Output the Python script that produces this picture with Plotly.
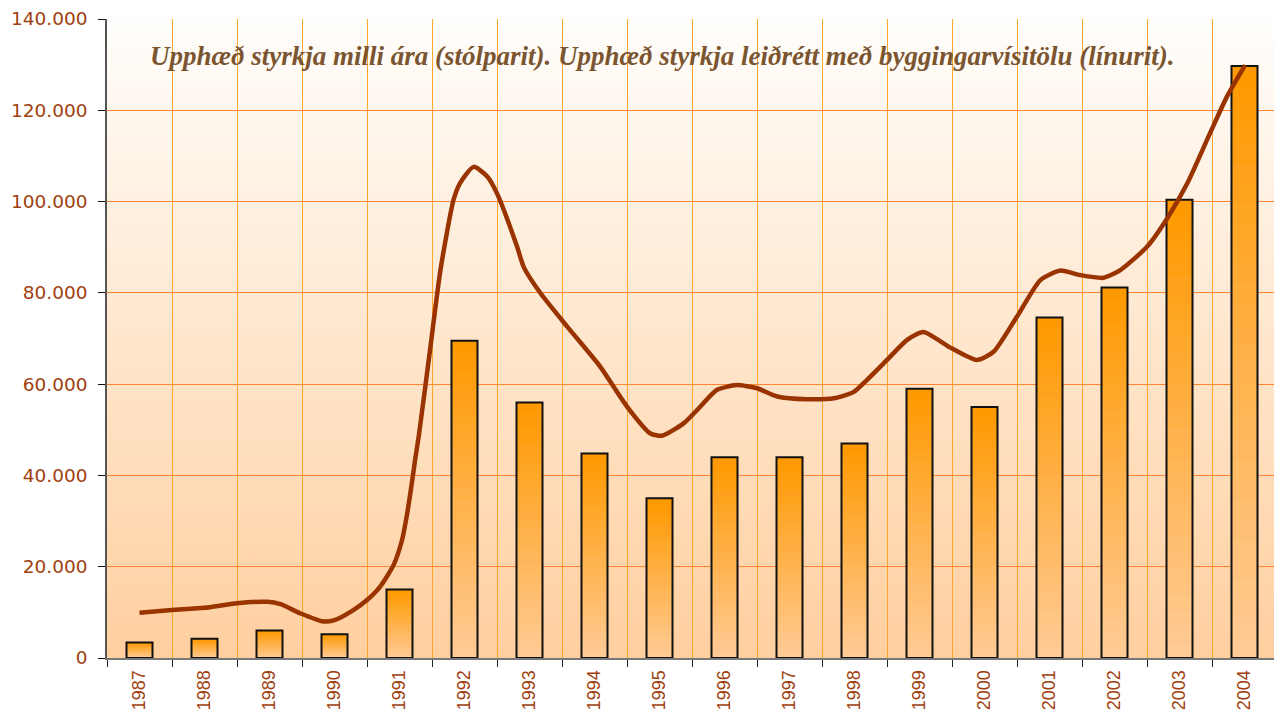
import base64
import plotly.graph_objects as go

# ---------------- data ----------------
years = list(range(1987, 2005))
year_labels = [str(y) for y in years]

# Grant amounts per year (bars)
grants = [3400, 4200, 6000, 5200, 15000, 69500, 56000, 44800, 35000,
          44000, 44000, 47000, 59000, 55000, 74600, 81200, 100400, 129700]

# Grants adjusted by building cost index (line)
adj_x = [1987.00, 1987.50, 1988.00, 1988.50, 1988.96, 1989.17, 1989.47, 1989.83,
         1990.00, 1990.29, 1990.50, 1990.70, 1990.91, 1991.04, 1991.12, 1991.19,
         1991.24, 1991.30, 1991.47, 1991.63, 1991.83, 1991.93, 1992.14, 1992.35,
         1992.50, 1992.81, 1992.91, 1993.17, 1993.58, 1994.09, 1994.50, 1994.86,
         1995.04, 1995.37, 1995.63, 1995.88, 1996.19, 1996.50, 1996.81, 1997.27,
         1997.68, 1997.99, 1998.19, 1998.50, 1998.81, 1999.06, 1999.45, 1999.88,
         2000.14, 2000.50, 2000.86, 2001.17, 2001.47, 2001.83, 2002.09, 2002.50,
         2002.81, 2003.12, 2003.47, 2003.73, 2004.01]
adj_y = [9900, 10500, 11000, 12000, 12300, 11800, 9800, 8000,
         8300, 10500, 12700, 15600, 20400, 25900, 31800, 38300,
         43400, 49000, 67500, 85000, 100300, 104000, 107600, 105500,
         101800, 90100, 85700, 79900, 72600, 63800, 55100, 49200,
         48700, 51400, 55100, 58700, 59800, 59100, 57300, 56700,
         56900, 58300, 60900, 65300, 69700, 71400, 68200, 65300,
         67100, 74800, 82800, 84900, 83900, 83300, 85000, 90100,
         96300, 104000, 115000, 123000, 129900]

y_ticks = [0, 20000, 40000, 60000, 80000, 100000, 120000, 140000]

title_text = ("Upphæð styrkja milli ára (stólparit). "
              "Upphæð styrkja leiðrétt með byggingarvísitölu (línurit).")

# ---------------- styles ----------------
label_color = "#A0400F"
bar_top = (255, 153, 0)
bar_bottom = (255, 202, 148)
n_bands = 30
bar_width = 0.4

fig = go.Figure()

# gradient bars: overlaid, from full height (darkest) down to shortest (lightest)
for k in range(n_bands):
    t = k / (n_bands - 1)
    c = tuple(round(bar_top[i] + t * (bar_bottom[i] - bar_top[i])) for i in range(3))
    frac = (n_bands - k) / n_bands
    fig.add_trace(go.Bar(
        x=years, y=[v * frac for v in grants], width=bar_width,
        marker=dict(color="rgb(%d,%d,%d)" % c, line=dict(width=0)),
        hoverinfo="skip", showlegend=False))

# outline
fig.add_trace(go.Bar(
    x=years, y=grants, width=bar_width,
    marker=dict(color="rgba(0,0,0,0)", line=dict(color="#111111", width=2)),
    showlegend=False, name="Upphæð styrkja"))

# adjusted line
fig.add_trace(go.Scatter(
    x=adj_x, y=adj_y, mode="lines",
    line=dict(color="#993300", width=4.5, shape="spline", smoothing=0.6),
    showlegend=False, name="Leiðrétt"))

# background gradient of plot area
svg = ('<svg xmlns="http://www.w3.org/2000/svg" width="100" height="100" '
       'viewBox="0 0 100 100" preserveAspectRatio="none">'
       '<defs><linearGradient id="g" x1="0" y1="0" x2="0" y2="1">'
       '<stop offset="0" stop-color="#FFFEFC"/>'
       '<stop offset="1" stop-color="#FFCF9F"/>'
       '</linearGradient></defs>'
       '<rect x="0" y="0" width="100" height="100" fill="url(#g)"/></svg>')
src = "data:image/svg+xml;base64," + base64.b64encode(svg.encode()).decode()

fig.update_layout(
    width=1274, height=705,
    margin=dict(l=99, r=5, t=11, b=55),
    paper_bgcolor="white",
    plot_bgcolor="rgba(0,0,0,0)",
    barmode="overlay",
    separators=",.",
    showlegend=False,
    images=[dict(source=src, xref="paper", yref="paper", x=0, y=1,
                 sizex=1, sizey=1, xanchor="left", yanchor="top",
                 sizing="stretch", layer="below")],
    annotations=[dict(text="<b><i>" + title_text + "</i></b>",
                      xref="paper", yref="paper", x=0.4748, y=0.942,
                      xanchor="center", yanchor="middle", showarrow=False,
                      font=dict(family="Liberation Serif, Times New Roman, serif",
                                size=27, color="#7A5530"))],
)

fig.update_xaxes(
    range=[1986.5, 2004.5], automargin=False,
    tickmode="array", tickvals=years, ticktext=year_labels,
    tickangle=-90, ticks="", showgrid=False, zeroline=False,
    ticklabelstandoff=3,
    tickfont=dict(family="Liberation Sans, Arial, sans-serif", size=18, color=label_color),
    showline=True, linecolor="#777777", linewidth=2,
    minor=dict(tick0=1986.5, dtick=1, ticks="outside", ticklen=7,
               tickcolor="#222222", tickwidth=1,
               showgrid=True, gridcolor="#FFA52C", gridwidth=1),
)

fig.update_yaxes(
    range=[0, 140000], automargin=False,
    tickmode="array", tickvals=y_ticks, tickformat=",d",
    ticks="outside", ticklen=7, tickcolor="#111111", tickwidth=1,
    ticklabelstandoff=7,
    showgrid=True, gridcolor="#FF8530", gridwidth=1, zeroline=False,
    showline=True, linecolor="#555555", linewidth=1.5,
    tickfont=dict(family="DejaVu Sans, Verdana, sans-serif", size=18.5, color=label_color),
)

fig.write_html("out.html")
